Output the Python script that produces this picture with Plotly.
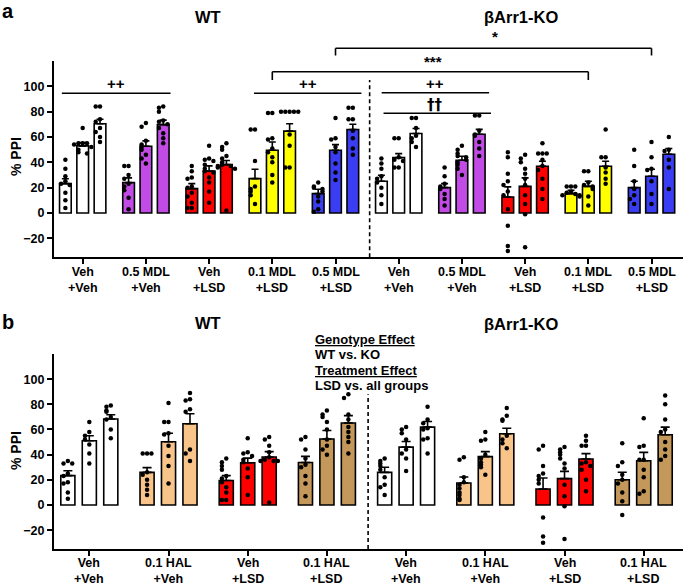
import plotly.graph_objects as go

# ---------------- DATA ----------------
a_line1 = ["Veh", "0.5 MDL", "Veh", "0.1 MDL", "0.5 MDL", "Veh", "0.5 MDL", "Veh", "0.1 MDL", "0.5 MDL"]
a_line2 = ["+Veh", "+Veh", "+LSD", "+LSD", "+LSD", "+Veh", "+Veh", "+LSD", "+LSD", "+LSD"]
a_means = [[23.2, 53.0, 70.4], [24.0, 52.7, 69.8], [19.2, 33.2, 38.2], [27.1, 49.5, 64.6], [15.3, 49.5, 65.9],
           [25.0, 43.7, 62.7], [20.0, 41.6, 62.2], [12.6, 21.0, 36.9], [15.3, 21.0, 36.9], [20.0, 29.0, 46.4]]
a_sem = [[3.8, 2.6, 3.6], [3.7, 4.2, 3.5], [4.0, 4.0, 3.2], [7.4, 6.5, 5.8], [3.4, 4.5, 4.1],
         [4.8, 3.2, 4.0], [3.2, 3.2, 3.8], [8.0, 6.7, 3.9], [2.6, 4.0, 3.9], [5.0, 5.5, 4.5]]
a_dots = [
    [[42, 35, 29, 25, 23, 22, 16, 10, 4], [67, 55, 55, 55, 54, 52, 50, 48, 47], [84, 84, 74, 72, 67, 64, 60, 56]],
    [[37, 37, 30, 27, 23, 21, 18, 12, 3], [71, 68, 57, 54, 52, 50, 46, 43, 39], [84, 83, 80, 73, 72, 70, 67, 63, 59, 55]],
    [[37, 33, 28, 27, 21, 20, 16, 13, 8, 4, 4], [53, 43, 42, 41, 38, 35, 33, 32, 28, 24, 17, 8], [55, 52, 50, 45, 43, 40, 38, 37, 37, 36, 35, 2]],
    [[66, 66, 41, 21, 19, 17, 14, 7], [79, 79, 59, 58, 51, 48, 44, 40, 30, 24], [80, 80, 80, 80, 80, 62, 53, 36, 36]],
    [[24, 21, 20, 19, 17, 13, 9, 3, 1], [75, 59, 58, 52, 48, 39, 32, 26], [83, 83, 74, 74, 65, 59, 51, 46]],
    [[43, 39, 35, 29, 27, 24, 20, 14, 7], [59, 59, 44, 42, 41, 36, 36], [75, 75, 67, 61, 59, 56, 52]],
    [[36, 29, 23, 21, 19, 15, 11, 6], [53, 50, 47, 45, 44, 42, 40, 38, 35, 30], [77, 77, 65, 62, 61, 56, 51, 45]],
    [[48, 44, 31, 25, 22, 17, 14, 3, -10, -26, -30], [46, 43, 40, 35, 31, 27, 22, 14, 7, -1, -27], [55, 47, 47, 47, 42, 37, 34, 27, 19, 11]],
    [[21, 21, 21, 17, 16, 15, 14, 14, 13], [33, 33, 24, 22, 21, 19, 13, 6], [66, 44, 44, 36, 32, 27, 23]],
    [[50, 37, 25, 19, 14, 11, 7], [56, 44, 35, 34, 25, 15, 7], [60, 50, 49, 42, 36, 19]],
]
a_colors = ["#FFFFFF", "#C24BE6", "#FF0000", "#FFFF00", "#3A3DF2"] * 2

b_line1 = ["Veh", "0.1 HAL", "Veh", "0.1 HAL", "Veh", "0.1 HAL", "Veh", "0.1 HAL"]
b_line2 = ["+Veh", "+Veh", "+LSD", "+LSD", "+Veh", "+Veh", "+LSD", "+LSD"]
b_means = [[23.3, 51.0, 68.3], [25.9, 50.2, 64.6], [19.5, 33.5, 38.1], [33.8, 52.4, 65.1],
           [25.9, 46.0, 61.9], [17.5, 38.4, 56.6], [12.7, 20.9, 36.5], [20.1, 35.2, 55.8]]
b_sem = [[3.9, 4.0, 3.4], [3.8, 6.8, 7.9], [3.8, 3.7, 4.3], [4.8, 6.8, 5.9],
         [4.1, 4.5, 4.4], [4.7, 4.0, 4.4], [8.7, 5.8, 4.3], [5.9, 6.6, 6.1]]
b_dots = [
    [[35, 33, 33, 25, 23, 18, 17, 10, 5], [66, 58, 55, 52, 48, 41, 33], [79, 78, 75, 74, 70, 68, 60, 53]],
    [[41, 41, 41, 26, 24, 20, 16, 12, 8], [81, 66, 66, 57, 56, 47, 39, 31, 17], [89, 84, 83, 76, 74, 44, 41, 35]],
    [[37, 34, 31, 28, 23, 21, 18, 14, 10, 4, 4], [53, 42, 41, 39, 36, 34, 29, 22, 8], [54, 52, 47, 42, 38, 36, 35, 35, 35, 2]],
    [[54, 52, 44, 37, 32, 30, 23, 17, 7], [75, 72, 70, 66, 60, 52, 47, 44, 40], [88, 85, 72, 68, 62, 58, 54, 50, 41]],
    [[37, 35, 33, 31, 28, 22, 16, 14, 8], [62, 60, 57, 52, 44, 41, 37, 27], [78, 68, 65, 61, 60, 53, 52, 41]],
    [[38, 36, 22, 18, 16, 13, 10, 8, 5, 4], [58, 52, 51, 40, 37, 34, 32, 30, 24], [77, 71, 68, 67, 55, 52, 49, 45]],
    [[47, 44, 31, 25, 23, 20, 17, -10, -25, -30], [46, 44, 42, 40, 37, 33, 29, 16, 7, -1, -27], [55, 51, 47, 47, 34, 33, 31, 28, 20, 11]],
    [[49, 34, 31, 24, 20, 17, 10, 3, -8], [69, 47, 46, 36, 36, 28, 22, 11, 9], [87, 80, 68, 60, 58, 50, 44, 39, 36]],
]
b_colors = ["#FFFFFF", "#F9C48A", "#FF0000", "#C4975A"] * 2

y_ticks = [-20, 0, 20, 40, 60, 80, 100]

# ---------------- LAYOUT HELPERS ----------------
W, H = 685, 588
ML, MR, MT, MB = 54, 2, 61, 39
PW, PH = W - ML - MR, H - MT - MB
FONT = "Liberation Sans, Arial, sans-serif"


def PX(px):
    return (px - ML) / PW


def PY(py):
    return (H - MB - py) / PH


fig = go.Figure()


def add_panel(n_groups, means, sems, dots, colors, xa, ya, off, bw, jit, capw):
    xs, ys, es, cs = [], [], [], []
    dx, dy = [], []
    for g in range(n_groups):
        for k in range(3):
            xc = g + (k - 1) * off
            xs.append(xc)
            ys.append(means[g][k])
            es.append(sems[g][k])
            cs.append(colors[g])
            seen = []
            for v in dots[g][k]:
                n = sum(1 for s in seen if abs(s - v) < 3.5)
                seen.append(v)
                pat = [0, -1, 1, -2, 2, -3, 3][n % 7]
                dx.append(xc + pat * jit)
                dy.append(v)
    fig.add_trace(go.Bar(
        x=xs, y=ys, width=bw, xaxis=xa, yaxis=ya,
        marker=dict(color=cs, line=dict(color="black", width=1.6)),
        error_y=dict(type="data", array=es, arrayminus=[0] * len(es), symmetric=False,
                     color="black", thickness=1.6, width=capw),
        showlegend=False, hoverinfo="skip"))
    fig.add_trace(go.Scatter(
        x=dx, y=dy, mode="markers", xaxis=xa, yaxis=ya,
        marker=dict(color="black", size=4.5, line=dict(width=0)),
        showlegend=False, hoverinfo="skip", cliponaxis=False))


add_panel(len(a_line1), a_means, a_sem, a_dots, a_colors, "x", "y", 0.274, 0.185, 0.068, 3.5)
add_panel(len(b_line1), b_means, b_sem, b_dots, b_colors, "x2", "y2", 0.271, 0.178, 0.055, 4.5)

axis_common = dict(showline=True, linecolor="black", linewidth=2.2, ticks="outside",
                   ticklen=5, tickwidth=2, tickcolor="black", showgrid=False, zeroline=False,
                   automargin=False,
                   tickfont=dict(family=FONT, size=12.5, color="black", weight="bold"))
ycommon = dict(axis_common, range=[-35, 120], tickvals=y_ticks)

fig.update_layout(
    width=W, height=H, plot_bgcolor="white", paper_bgcolor="white",
    margin=dict(l=ML, r=MR, t=MT, b=MB, autoexpand=False), font=dict(family=FONT, color="black"),
    xaxis=dict(axis_common, domain=[0, 1], anchor="y", range=[-0.454, 9.498],
               tickvals=list(range(len(a_line1))), showticklabels=False),
    yaxis=dict(ycommon, domain=[PY(257.3), 1], anchor="x"),
    xaxis2=dict(axis_common, domain=[0, 1], anchor="y2", range=[-0.446, 7.496],
                tickvals=list(range(len(b_line1))), showticklabels=False),
    yaxis2=dict(ycommon, domain=[0, PY(354)], anchor="x2"),
)

shapes = []
# dashed separators
shapes.append(dict(type="line", xref="x", yref="y", x0=4.54, x1=4.54, y0=-35, y1=105,
                   line=dict(color="black", width=1.6, dash="4px,3px")))
shapes.append(dict(type="line", xref="x2", yref="y2", x0=3.52, x1=3.52, y0=-35, y1=88,
                   line=dict(color="black", width=1.6, dash="4px,3px")))

# significance lines (panel a)
lines_a = [(-0.33, 1.39, 93.3, None), (2.71, 4.41, 93.3, None),
           (4.73, 6.43, 92.7, None), (4.76, 6.46, 113.3, None),
           (3, 8, 71.7, 80), (4, 9, 48.3, 55.5)]
for x0, x1, ypx, tick in lines_a:
    shapes.append(dict(type="line", xref="x", yref="paper", x0=x0, x1=x1, y0=PY(ypx), y1=PY(ypx),
                       line=dict(color="black", width=1.6)))
    if tick is not None:
        for xx in (x0, x1):
            shapes.append(dict(type="line", xref="x", yref="paper", x0=xx, x1=xx,
                               y0=PY(ypx), y1=PY(tick), line=dict(color="black", width=1.6)))
fig.update_layout(shapes=shapes)

ann = []


def txt(x, y, s, size, xref="paper", xanchor="center", bold=True, angle=0, family=FONT):
    ann.append(dict(x=x, y=y, xref=xref, yref="paper", text=s, showarrow=False,
                    xanchor=xanchor, yanchor="middle", textangle=angle,
                    font=dict(family=family, size=size, color="black", weight="bold" if bold else "normal")))


# category labels (two lines) under each tick
for i, (p, q) in enumerate(zip(a_line1, a_line2)):
    txt(i, PY(280), f"{p}<br>{q}", 12.5, xref="x")
for i, (p, q) in enumerate(zip(b_line1, b_line2)):
    txt(i, PY(571), f"{p}<br>{q}", 12.5, xref="x2")

txt(PX(8), PY(11), "a", 20)
txt(PX(208), PY(17), "WT", 16.5)
txt(PX(521), PY(17), "βArr1-KO", 16.5)
txt(PX(8), PY(322), "b", 20)
txt(PX(208), PY(323), "WT", 16.5)
txt(PX(521), PY(324), "βArr1-KO", 16.5)
txt(PX(16), PY(157), "% PPI", 14, angle=-90)
txt(PX(16), PY(451), "% PPI", 14, angle=-90)

# significance labels
txt(0.53, PY(84), "++", 15, xref="x")
txt(3.56, PY(84), "++", 15, xref="x")
txt(5.58, PY(84), "++", 15, xref="x")
txt(5.58, PY(105), "††", 15, xref="x", family="DejaVu Sans, Liberation Sans, sans-serif")
txt(5.54, PY(61), "***", 15, xref="x")
txt(6.53, PY(37), "*", 15, xref="x")

# effect legend (panel b)
txt(PX(313), PY(339), "<u>Genotype Effect</u>", 13, xanchor="left")
txt(PX(313), PY(354), "WT vs. KO", 13, xanchor="left")
txt(PX(313), PY(370), "<u>Treatment Effect</u>", 13, xanchor="left")
txt(PX(313), PY(385), "LSD vs. all groups", 13, xanchor="left")

fig.update_layout(annotations=ann)
fig.write_html("out.html", config={"displayModeBar": False},
               post_script="document.body.style.margin='0';document.body.style.padding='0';")
